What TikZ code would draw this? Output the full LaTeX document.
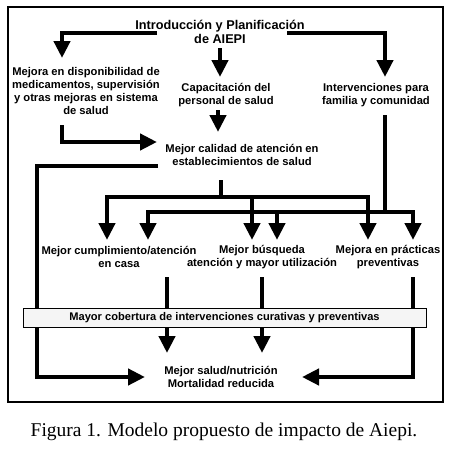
\documentclass[tikz,border=0pt]{standalone}
\usepackage{fontspec}
\setmainfont{Liberation Serif}
\setsansfont{Liberation Sans}
\usetikzlibrary{arrows.meta, positioning}

\tikzset{
  txt/.style={font=\sffamily\bfseries\fontsize{11.2}{13}\selectfont, align=center, inner sep=0pt},
  ttl/.style={font=\sffamily\bfseries\fontsize{12.7}{14}\selectfont, align=center, inner sep=0pt},
  arr/.style={line width=4.8pt, -{Triangle[width=16pt,length=17pt]}},
  bar/.style={line width=4.8pt},
  cbox/.style={draw, line width=1pt, fill=black!4, minimum width=403pt, minimum height=19pt, inner sep=0pt,
    font=\sffamily\bfseries\fontsize{11.1}{13}\selectfont},
}

\begin{document}
\begin{tikzpicture}[x=1pt, y=-1pt]
\useasboundingbox (0,0) rectangle (450,453);
\fill [white] (0,0) rectangle (450,453);
\draw [line width=1.2pt] (8,7) rectangle (443,402);

% texts
\node [ttl] (intro)   at (220,32)  {Introducción y Planificación\\de AIEPI};
\node [txt] (mejora)  at (86,91)   {Mejora en disponibilidad de\\medicamentos, supervisión\\y otras mejoras en sistema\\de salud};
\node [txt] (capac)   at (226,95)  {Capacitación del\\personal de salud};
\node [txt] (interv)  at (376,95)  {Intervenciones para\\familia y comunidad};
\node [txt] (calidad) at (242,155) {Mejor calidad de atención en\\establecimientos de salud};
\node [txt] (cumpl)   at (119,257) {Mejor cumplimiento/atención\\en casa};
\node [txt] (busq)    at (262,257) {Mejor búsqueda\\atención y mayor utilización};
\node [txt] (pract)   at (388,257) {Mejora en prácticas\\preventivas};
\node [txt] (salud)   at (221,377) {Mejor salud/nutrición\\Mortalidad reducida};
\node [font=\fontsize{19.5}{22}\selectfont, inner sep=0pt] (fig) at (224,432)
  {Figura 1. Modelo propuesto de impacto de Aiepi.};

% connector ends
\coordinate (iL)  at (157,33);
\coordinate (iR)  at (287,33);
\coordinate (iM)  at (220,48);
\coordinate (mT)  at (62,58);
\coordinate (cT)  at (220,77);
\coordinate (vT)  at (385,77);
\coordinate (cB)  at (218,110);
\coordinate (qT)  at (218,132);
\coordinate (mB)  at (62,125);
\coordinate (qL)  at (157,142);
\coordinate (vB)  at (385,115);
\coordinate (qW)  at (158,166);
\coordinate (qS)  at (221,180);
\coordinate (b1)  at (221,197);
\coordinate (b2)  at (385,212);
\coordinate (sL)  at (145,377);
\coordinate (sR)  at (302,377);

% top level
\draw [arr] (iL) -| (mT);
\draw [arr] (iM) -- (cT);
\draw [arr] (iR) -| (vT);
\draw [arr] (cB) -- (qT);
\draw [arr] (mB) |- (qL);

% to the second row
\draw [arr] (qW) -| (37,300) |- (sL);
\draw [bar] (qS) -- (b1);
\draw [arr] (b1) -| (107,240);
\draw [arr] (b1) -| (368,240);
\draw [arr] (252,197) -- (252,240);
\draw [bar] (vB) -- (b2);
\draw [arr] (b2) -| (148,240);
\draw [arr] (b2) -| (413,240);
\draw [arr] (277,212) -- (277,240);

% to the outcome
\draw [arr] (167,277) -- (167,353);
\draw [arr] (262,277) -- (262,353);
\draw [arr] (413,277) |- (sR);

\node [cbox] (cobert) at (224.5,317.5) {Mayor cobertura de intervenciones curativas y preventivas};

\end{tikzpicture}
\end{document}
